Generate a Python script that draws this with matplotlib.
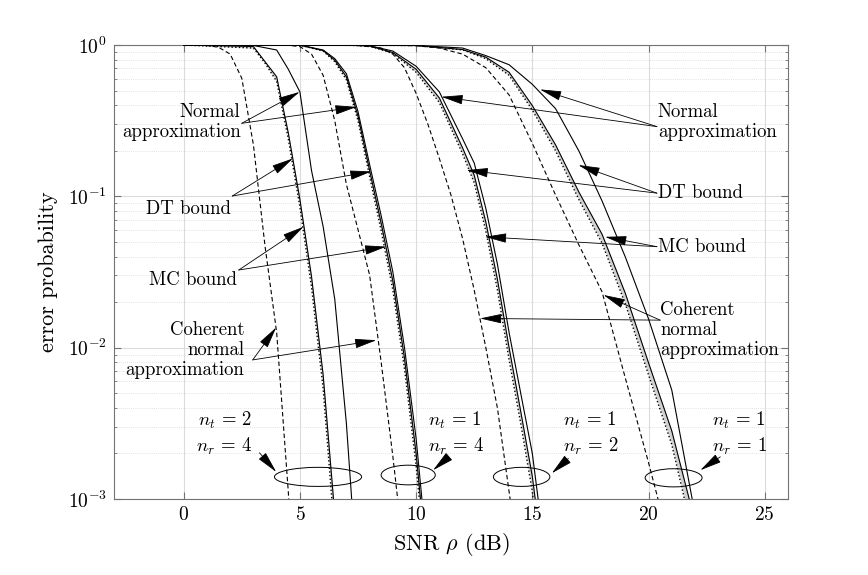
import numpy as np
import matplotlib
matplotlib.use('Agg')
import matplotlib.pyplot as plt
from matplotlib.patches import Ellipse

plt.rcParams['font.family'] = 'cmr10'
plt.rcParams['mathtext.fontset'] = 'cm'
plt.rcParams['axes.formatter.use_mathtext'] = True
plt.rcParams['font.size'] = 13.5

# ---- curves (SNR in dB, error probability) ----
# nt=2, nr=4
a_coh_snr = [0, 1, 1.5, 2, 2.5, 3, 3.5, 4, 4.5, 5]
a_coh_pe = [1.0, 0.993, 0.966, 0.871, 0.603, 0.219, 0.0468, 0.0126, 0.00112, 6.3e-5]
a_na_snr = [0, 3, 4, 4.5, 5, 5.5, 6, 6.5, 7, 7.5]
a_na_pe = [1.0, 0.993, 0.927, 0.692, 0.490, 0.148, 0.0631, 0.0209, 0.00316, 0.000251]
a_bnd_snr = [0, 3, 3.5, 4, 4.5, 5, 5.5, 6, 6.5]
a_dt_pe = [1.0, 0.977, 0.776, 0.617, 0.263, 0.0955, 0.0295, 0.00661, 0.000794]
a_mc_pe = [1.0, 0.955, 0.759, 0.575, 0.240, 0.0851, 0.0251, 0.00537, 0.000562]

# nt=1, nr=4
b_coh_snr = [0, 4.5, 5, 5.5, 6, 6.5, 7, 7.5, 8, 8.5, 9, 9.5]
b_coh_pe = [1.0, 0.995, 0.977, 0.871, 0.631, 0.316, 0.120, 0.0603, 0.0302, 0.00794, 0.00191, 0.000398]
b_snr = [0, 5, 6, 6.5, 7, 7.5, 8, 8.5, 9, 9.5, 10, 10.5]
b_na_pe = [1.0, 0.998, 0.927, 0.813, 0.646, 0.363, 0.162, 0.0741, 0.0316, 0.01, 0.00251, 0.000398]
b_dt_pe = [1.0, 0.998, 0.920, 0.794, 0.617, 0.339, 0.148, 0.0661, 0.0275, 0.00851, 0.002, 0.000316]
b_mc_pe = [1.0, 0.998, 0.912, 0.776, 0.589, 0.316, 0.135, 0.0589, 0.024, 0.00724, 0.00166, 0.000251]

# nt=1, nr=2
c_coh_snr = [0, 7.5, 8.5, 9, 9.5, 10, 10.5, 11, 11.5, 12, 12.5, 13, 13.5, 14, 14.5]
c_coh_pe = [1.0, 0.993, 0.955, 0.871, 0.708, 0.479, 0.302, 0.178, 0.102, 0.0525, 0.0240, 0.01,
            0.00398, 0.00112, 0.000316]
c_snr = [0, 7, 8, 9, 10, 11, 12, 12.5, 13, 13.5, 14, 14.5, 15, 15.5]
c_na_pe = [1.0, 0.998, 0.989, 0.912, 0.724, 0.490, 0.240, 0.166, 0.0832, 0.0355, 0.0126, 0.00501,
           0.002, 0.000501]
c_dt_pe = [1.0, 0.998, 0.986, 0.891, 0.692, 0.447, 0.209, 0.138, 0.0676, 0.0282, 0.01, 0.0038,
           0.00141, 0.000355]
c_mc_pe = [1.0, 0.998, 0.984, 0.881, 0.661, 0.417, 0.191, 0.123, 0.0589, 0.024, 0.00832, 0.00316,
           0.00112, 0.000251]

# nt=1, nr=1
d_coh_snr = [0, 9, 10, 11, 12, 13, 14, 15, 16, 17, 18, 19, 20, 21]
d_coh_pe = [1.0, 0.995, 0.989, 0.955, 0.871, 0.708, 0.468, 0.224, 0.102, 0.0479, 0.0234, 0.00631,
            0.00174, 0.000447]
d_snr = [0, 10, 12, 13, 14, 15, 16, 17, 18, 19, 20, 21, 22]
d_na_pe = [1.0, 0.993, 0.955, 0.851, 0.741, 0.550, 0.380, 0.200, 0.0933, 0.0398, 0.0155, 0.00525,
           0.000794]
d_dt_pe = [1.0, 0.993, 0.933, 0.832, 0.661, 0.398, 0.219, 0.107, 0.0562, 0.0229, 0.00794, 0.00282,
           0.000708]
d_mc_pe = [1.0, 0.993, 0.929, 0.813, 0.631, 0.372, 0.200, 0.0955, 0.049, 0.0195, 0.00661, 0.00229,
           0.000501]

x_ticks = [0, 5, 10, 15, 20, 25]
y_ticks = [1e-3, 1e-2, 1e-1, 1e0]

# (snr, pe) of ellipse centres, width in dB, height in decades
ellipses = [((5.78, 0.0014), 3.75, 0.126),
            ((9.66, 0.00144), 2.33, 0.13),
            ((14.54, 0.0014), 2.43, 0.126),
            ((21.08, 0.00138), 2.45, 0.12)]
ant_labels = [r'$n_t\,=\,2$' + '\n' + r'$n_r\,=\,4$',
              r'$n_t\,=\,1$' + '\n' + r'$n_r\,=\,4$',
              r'$n_t\,=\,1$' + '\n' + r'$n_r\,=\,2$',
              r'$n_t\,=\,1$' + '\n' + r'$n_r\,=\,1$']

fig = plt.figure(figsize=(8.68, 5.75), dpi=100)
ax = fig.add_axes([0.1313, 0.1322, 0.7765, 0.7895])

lw = 0.8
groups = [
    (a_coh_snr, a_coh_pe, a_na_snr, a_na_pe, a_bnd_snr, a_dt_pe, a_mc_pe),
    (b_coh_snr, b_coh_pe, b_snr, b_na_pe, b_snr, b_dt_pe, b_mc_pe),
    (c_coh_snr, c_coh_pe, c_snr, c_na_pe, c_snr, c_dt_pe, c_mc_pe),
    (d_coh_snr, d_coh_pe, d_snr, d_na_pe, d_snr, d_dt_pe, d_mc_pe),
]
for coh_x, coh_y, na_x, na_y, bx, dt_y, mc_y in groups:
    ax.fill_between(bx, mc_y, dt_y, color='0.82', lw=0, zorder=2)
    ax.plot(coh_x, coh_y, color='k', ls=(0, (4, 2.5)), lw=lw, zorder=3)
    ax.plot(na_x, na_y, color='k', ls='-', lw=lw, zorder=3)
    ax.plot(bx, dt_y, color='k', ls='-', lw=lw, zorder=3)
    ax.plot(bx, mc_y, color='k', ls=':', lw=lw + 0.2, zorder=3)

ax.set_yscale('log')
ax.set_xlim(-3, 26)
ax.set_ylim(1e-3, 1)
ax.set_xticks(x_ticks)
ax.set_yticks(y_ticks)
ax.grid(True, which='major', color='0.86', lw=0.8)
ax.grid(True, which='minor', axis='y', color='0.86', lw=0.6, ls=(0, (1, 1.5)))
ax.tick_params(which='both', direction='in', top=True, right=True, colors='0.45',
               labelcolor='k', labelsize=14)
ax.tick_params(which='major', length=5)
ax.tick_params(axis='x', which='major', pad=5)
ax.tick_params(axis='y', which='major', pad=5)
ax.tick_params(which='minor', length=2.5)
for s in ax.spines.values():
    s.set_color('0.45')
    s.set_linewidth(0.8)
ax.set_axisbelow(True)

ax.set_xlabel(r'SNR $\rho$ (dB)', fontsize=16, labelpad=5)
ax.set_ylabel('error probability', fontsize=16, labelpad=7)

arrow = dict(arrowstyle='-|>,head_length=1.0,head_width=0.22', color='k', lw=0.6,
             shrinkA=0, shrinkB=0)


def callout(text, origin, tips, tx, ty, ha):
    ax.text(tx, ty, text, ha=ha, va='center', fontsize=13.5, linespacing=1.15, zorder=5)
    for tip in tips:
        ax.annotate('', xy=tip, xytext=origin, arrowprops=arrow, zorder=6)


# left side callouts
callout('Normal\napproximation', (2.5, 0.304), [(4.99, 0.49), (7.44, 0.39)], 2.45, 0.31, 'right')
callout('DT bound', (2.09, 0.1005), [(4.70, 0.178), (8.08, 0.146)], 2.05, 0.083, 'right')
callout('MC bound', (2.37, 0.0326), [(5.16, 0.063), (8.72, 0.0465)], 2.3, 0.028, 'right')
callout('Coherent\nnormal\napproximation', (2.97, 0.0083), [(3.98, 0.0136), (8.29, 0.0112)],
        2.6, 0.0096, 'right')
# right side callouts
callout('Normal\napproximation', (20.36, 0.289), [(11.09, 0.455), (15.33, 0.509)], 20.4, 0.31, 'left')
callout('DT bound', (20.36, 0.105), [(12.17, 0.149), (16.98, 0.161)], 20.4, 0.105, 'left')
callout('MC bound', (20.36, 0.0465), [(12.96, 0.054), (18.13, 0.054)], 20.4, 0.0465, 'left')
callout('Coherent\nnormal\napproximation', (20.5, 0.0152), [(12.75, 0.0156), (18.06, 0.0223)],
        20.5, 0.0131, 'left')

# antenna configuration markers
inv = ax.transAxes.inverted()
xspan = 26 - (-3)
for (c, w, h) in ellipses:
    cx, cy = inv.transform(ax.transData.transform(c))
    ax.add_patch(Ellipse((cx, cy), w / xspan, h / 3, transform=ax.transAxes,
                         fill=False, ec='k', lw=0.7, zorder=6))

label_pos = [(2.95, 0.0027, 'right'), (10.5, 0.0027, 'left'),
             (16.3, 0.0027, 'left'), (22.75, 0.0027, 'left')]
label_arrows = [((3.26, 0.00202), (3.98, 0.00151)),
                ((11.24, 0.00181), (10.73, 0.00155)),
                ((16.55, 0.00185), (15.84, 0.00148)),
                ((23.09, 0.0019), (22.23, 0.00155))]
for lab, (lx, ly, ha), (o, t) in zip(ant_labels, label_pos, label_arrows):
    ax.text(lx, ly, lab, ha=ha, va='center', fontsize=13.5, linespacing=1.3, zorder=5)
    ax.annotate('', xy=t, xytext=o, arrowprops=arrow, zorder=6)

fig.savefig('out.png', dpi=100)
